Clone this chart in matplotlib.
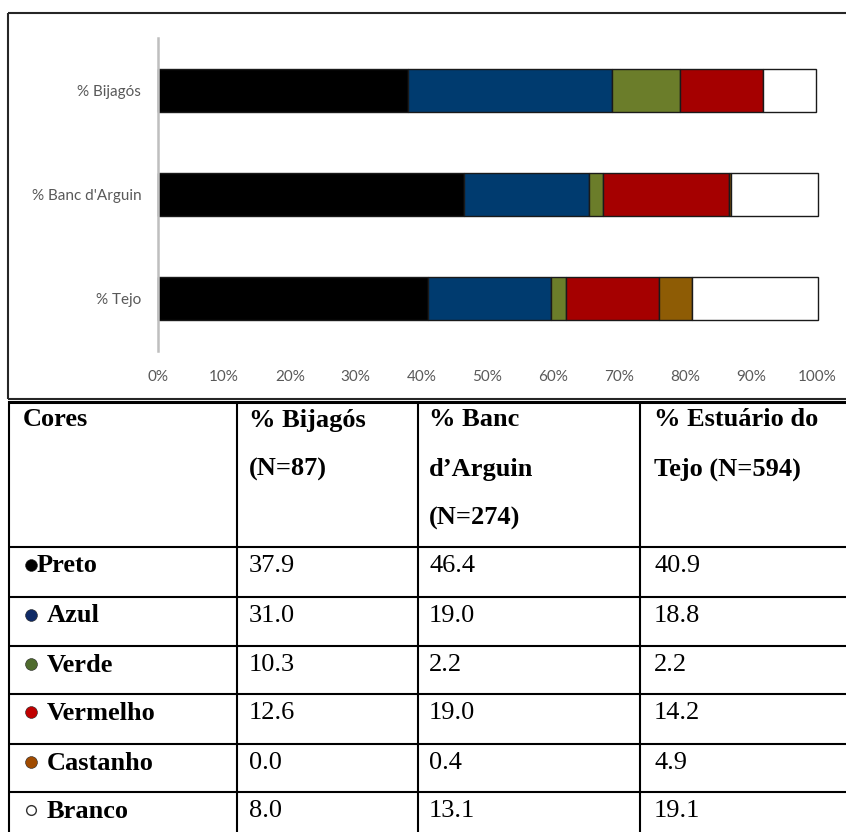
import matplotlib
matplotlib.use("Agg")
import matplotlib.pyplot as plt
from matplotlib.lines import Line2D

# Colour categories and their shares (%) at each site
cores = ["Preto", "Azul", "Verde", "Vermelho", "Castanho", "Branco"]
bijagos = [37.9, 31.0, 10.3, 12.6, 0.0, 8.0]
banc_arguin = [46.4, 19.0, 2.2, 19.0, 0.4, 13.1]
tejo = [40.9, 18.8, 2.2, 14.2, 4.9, 19.1]

sites = ["% Bijagós", "% Banc d'Arguin", "% Tejo"]
header_cells = [
    ["Cores"],
    ["% Bijagós", "(N=87)"],
    ["% Banc", "d\u2019Arguin", "(N=274)"],
    ["% Estuário do", "Tejo (N=594)"],
]
xticks = list(range(0, 101, 10))

bar_colors = ["#000000", "#003B6F", "#6B7D2A", "#A50000", "#8E5C05", "#FFFFFF"]
bullet_colors = ["#000000", "#0F2A66", "#4F6B2E", "#C00000", "#A04B00", "#FFFFFF"]

W, H = 846, 832
fig = plt.figure(figsize=(W / 100, H / 100), dpi=100)
fig.patch.set_facecolor("white")


def fx(px):
    return px / W


def fy(py):
    return 1 - py / H


def hline(y, x0, x1, lw=1.5, color="black"):
    fig.add_artist(Line2D([fx(x0), fx(x1)], [fy(y), fy(y)], transform=fig.transFigure,
                          color=color, lw=lw, solid_capstyle="butt"))


def vline(x, y0, y1, lw=1.5, color="black"):
    fig.add_artist(Line2D([fx(x), fx(x)], [fy(y0), fy(y1)], transform=fig.transFigure,
                          color=color, lw=lw, solid_capstyle="butt"))


# ---- stacked bar chart ----
chart_font = "Lato"
grey = "#595959"
ax = fig.add_axes([fx(158), fy(351), 659 / W, 313 / H])
rows = [bijagos, banc_arguin, tejo]
ypos = [2, 1, 0]
for site_vals, y in zip(rows, ypos):
    left = 0.0
    for val, col in zip(site_vals, bar_colors):
        if val > 0:
            b = ax.barh(y, val, left=left, height=0.412, color=col,
                        edgecolor="#1a1a1a", linewidth=1.0)
            for p in b.patches:
                p.set_clip_on(False)
        left += val

ax.set_xlim(0, 100)
ax.set_ylim(-0.5, 2.5)
ax.set_yticks(ypos)
ax.set_yticklabels(sites, fontfamily=chart_font, fontsize=11, color=grey)
ax.set_xticks(xticks)
ax.set_xticklabels([f"{v}%" for v in xticks], fontfamily=chart_font, fontsize=11, color=grey)
ax.tick_params(axis="both", length=0)
ax.tick_params(axis="x", pad=14)
ax.tick_params(axis="y", pad=12)
for side in ["top", "right", "bottom"]:
    ax.spines[side].set_visible(False)
ax.spines["left"].set_color("#BFBFBF")
ax.spines["left"].set_linewidth(1.8)
ax.set_facecolor("none")

# chart frame
hline(13, 8, 860, lw=1.5, color="#262626")
vline(8, 13, 399, lw=1.5, color="#262626")
hline(399, 8, 860, lw=1.5, color="#262626")

# ---- table ----
serif = "Liberation Serif"
fs = 19
col_lines = [9, 237, 418, 640]
row_lines = [402, 547, 597, 646, 694, 744, 792]

hline(402, 8, 860, lw=2.2)
for y in row_lines[1:]:
    hline(y, 8, 860, lw=1.5)
for x in col_lines:
    vline(x, 401, 840, lw=1.5)

text_x = [23, 249, 429, 654]
head_y = [420, 469, 518]
for cx, lines in zip(text_x, header_cells):
    for ly, line in zip(head_y, lines):
        fig.text(fx(cx), fy(ly), line, family=serif, fontsize=fs, fontweight="bold",
                 ha="left", va="center")

for i, name in enumerate(cores):
    top = row_lines[i + 1]
    yc = top + 19
    if name == "Branco":
        fig.add_artist(Line2D([fx(31)], [fy(yc - 1)], transform=fig.transFigure,
                              marker="o", ms=7, mfc="white", mec="#333333", mew=1.0, ls="none"))
    else:
        fig.add_artist(Line2D([fx(31)], [fy(yc - 1)], transform=fig.transFigure,
                              marker="o", ms=8.5, mfc=bullet_colors[i], mec="#222222",
                              mew=0.4, ls="none"))
    nx = 37 if i == 0 else 47
    fig.text(fx(nx), fy(yc), name, family=serif, fontsize=fs, fontweight="bold",
             ha="left", va="center")
    for cx, vals in zip(text_x[1:], [bijagos, banc_arguin, tejo]):
        fig.text(fx(cx), fy(yc), f"{vals[i]:.1f}", family=serif, fontsize=fs,
                 ha="left", va="center")

fig.savefig("out.png", dpi=100)
